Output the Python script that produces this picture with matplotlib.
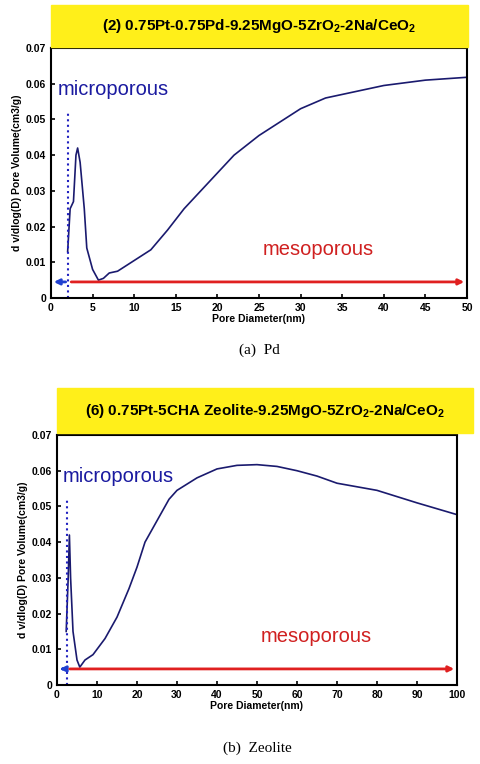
import matplotlib
matplotlib.use('Agg')
import matplotlib.pyplot as plt

# (a) Pd sample
pd_x = [2.0, 2.3, 2.7, 3.0, 3.2, 3.5, 4.0, 4.3, 5.0, 5.7, 6.3, 7.0, 8.0, 10, 12, 14, 16, 18, 20,
        22, 25, 28, 30, 33, 35, 40, 45, 50]
pd_y = [0.013, 0.025, 0.027, 0.040, 0.042, 0.038, 0.025, 0.014, 0.008, 0.005, 0.0055, 0.007,
        0.0075, 0.0105, 0.0135, 0.019, 0.025, 0.030, 0.035, 0.040, 0.0455, 0.050, 0.053, 0.056,
        0.057, 0.0595, 0.061, 0.0618]
# (b) Zeolite sample
ze_x = [2.3, 2.8, 3.1, 3.4, 4.0, 5.0, 5.7, 7, 9, 12, 15, 18, 20, 22, 25, 28, 30, 35, 40, 45, 50,
        55, 60, 65, 70, 80, 90, 100]
ze_y = [0.015, 0.030, 0.042, 0.030, 0.015, 0.007, 0.005, 0.007, 0.0085, 0.013, 0.019, 0.027,
        0.033, 0.040, 0.046, 0.052, 0.0545, 0.058, 0.0605, 0.0615, 0.0617, 0.0612, 0.060, 0.0585,
        0.0565, 0.0545, 0.051, 0.0477]

W, H = 480, 764
fig = plt.figure(figsize=(W / 100, H / 100), dpi=100)
plt.rcParams['font.family'] = ['Liberation Sans', 'DejaVu Sans']
plt.rcParams['mathtext.fontset'] = 'custom'
plt.rcParams['mathtext.bf'] = 'Liberation Sans:bold'


def panel(box, tbox, x, y, xmax, xstep, micro_x, title, caption, cap_y):
  l, t, r, b = box
  ax = fig.add_axes([l / W, 1 - b / H, (r - l) / W, (b - t) / H])
  tl, tt, tr, tb = tbox
  fig.patches.append(plt.Rectangle((tl / W, 1 - tb / H), (tr - tl) / W, (tb - tt) / H,
                                   transform=fig.transFigure, color='#ffef1a', zorder=0))
  fig.text((tl + tr) / 2 / W, 1 - (tt + tb) / 2 / H, title, ha='center', va='center',
           fontsize=11, fontweight='bold')
  ax.plot(x, y, color='#1a1a6e', lw=1.2)
  ax.plot([micro_x, micro_x], [0, 0.052], color='#2020c0', ls=':', lw=1.5)
  ax.annotate('', xy=(0, 0.0045), xytext=(micro_x, 0.0045),
              arrowprops=dict(arrowstyle='-|>', color='#2040d0', lw=2, mutation_scale=8))
  ax.annotate('', xy=(xmax, 0.0045), xytext=(micro_x, 0.0045),
              arrowprops=dict(arrowstyle='-|>', color='#e02020', lw=2, mutation_scale=8))
  ax.text(0.015 * xmax, 0.0585, 'microporous', color='#1a1aa0', fontsize=14.5, va='center')
  ax.text(0.51 * xmax, 0.0135, 'mesoporous', color='#d02020', fontsize=14.5, va='center')
  ax.set_xlim(0, xmax)
  ax.set_ylim(0, 0.07)
  ax.set_xticks(range(0, xmax + 1, xstep))
  ax.set_yticks([0, 0.01, 0.02, 0.03, 0.04, 0.05, 0.06, 0.07])
  ax.set_yticklabels(['0', '0.01', '0.02', '0.03', '0.04', '0.05', '0.06', '0.07'])
  ax.tick_params(labelsize=7.5, direction='in', length=3, width=1.2)
  for lab in ax.get_xticklabels() + ax.get_yticklabels():
    lab.set_fontweight('bold')
  for s in ax.spines.values():
    s.set_linewidth(1.5)
  ax.set_xlabel('Pore Diameter(nm)', fontsize=7.5, fontweight='bold', labelpad=1)
  ax.set_ylabel('d v/dlog(D) Pore Volume(cm3/g)', fontsize=7.5, fontweight='bold', labelpad=3)
  fig.text((l + r) / 2 / W, 1 - cap_y / H, caption, ha='center', va='center', fontsize=11,
           family=['Liberation Serif', 'DejaVu Serif'])
  return ax


panel((51, 48, 467, 298), (51, 5, 468, 47), pd_x, pd_y, 50, 5, 2.1,
      r'(2) 0.75Pt-0.75Pd-9.25MgO-5ZrO$_\mathbf{2}$-2Na/CeO$_\mathbf{2}$', '(a)  Pd', 350)
panel((57, 435, 457, 685), (57, 388, 473, 433), ze_x, ze_y, 100, 10, 2.5,
      r'(6) 0.75Pt-5CHA Zeolite-9.25MgO-5ZrO$_\mathbf{2}$-2Na/CeO$_\mathbf{2}$', '(b)  Zeolite', 748)

fig.savefig('out.png', dpi=100)
